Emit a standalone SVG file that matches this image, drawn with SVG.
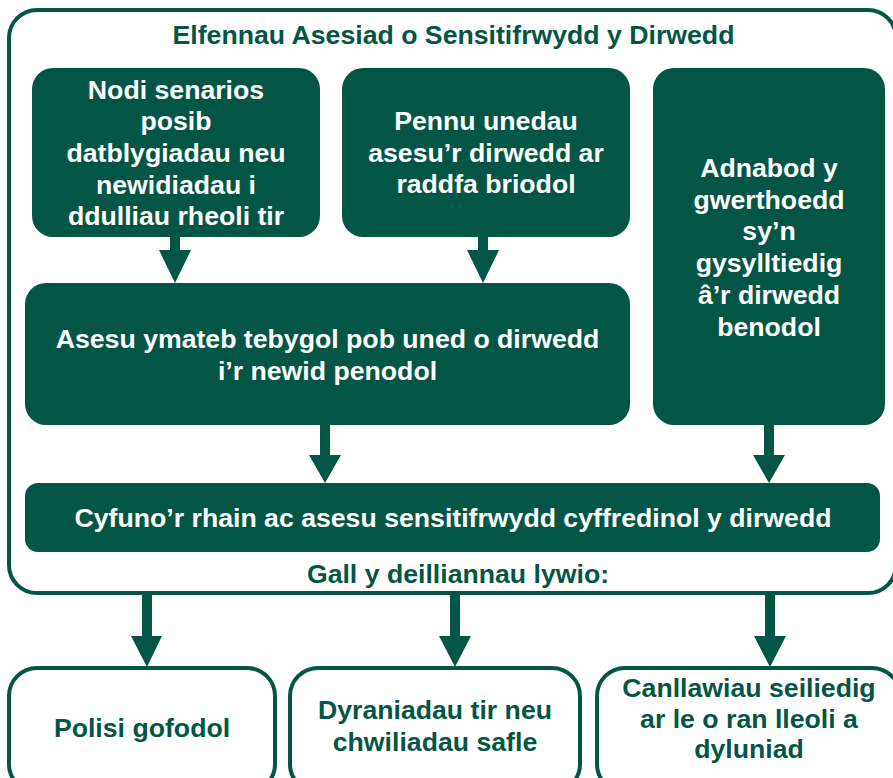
<svg xmlns="http://www.w3.org/2000/svg" width="893" height="778" viewBox="0 0 893 778">
<style>
.fill{fill:#035646}
.out{fill:#ffffff;stroke:#035646;stroke-width:4}
text{font-family:"Liberation Sans",Arial,Helvetica,sans-serif;font-weight:bold;font-size:26.67px;text-anchor:middle}
.w{fill:#ffffff}
.g{fill:#035646}
.conn{fill:#035646}
</style>
<rect width="893" height="778" fill="#ffffff"/>
<g id="frame">
<rect class="out" x="9" y="10" width="887" height="583" rx="28"/>
<text class="g" x="453.5" y="44">Elfennau Asesiad o Sensitifrwydd y Dirwedd</text>
<text class="g" x="458" y="583">Gall y deilliannau lywio:</text>
</g>
<g id="node-scenarios">
<rect class="fill" x="32" y="68" width="288" height="169" rx="21"/>
<text class="w" x="176"><tspan x="176" y="98.5">Nodi senarios</tspan><tspan x="176" y="130.2">posib</tspan><tspan x="176" y="161.9">datblygiadau neu</tspan><tspan x="176" y="193.6">newidiadau i</tspan><tspan x="176" y="225.3">ddulliau rheoli tir</tspan></text>
</g>
<g id="node-units">
<rect class="fill" x="342" y="68" width="288" height="169" rx="21"/>
<text class="w"><tspan x="486" y="130">Pennu unedau</tspan><tspan x="486" y="161.7">asesu’r dirwedd ar</tspan><tspan x="486" y="193.4">raddfa briodol</tspan></text>
</g>
<g id="node-values">
<rect class="fill" x="653" y="68" width="232" height="357" rx="21"/>
<text class="w"><tspan x="769" y="177">Adnabod y</tspan><tspan x="769" y="208.7">gwerthoedd</tspan><tspan x="769" y="240.4">sy’n</tspan><tspan x="769" y="272.1">gysylltiedig</tspan><tspan x="769" y="303.8">â’r dirwedd</tspan><tspan x="769" y="335.5">benodol</tspan></text>
</g>
<g id="node-assess">
<rect class="fill" x="25" y="283" width="605" height="142" rx="21"/>
<text class="w"><tspan x="327.5" y="348">Asesu ymateb tebygol pob uned o dirwedd</tspan><tspan x="327.5" y="380">i’r newid penodol</tspan></text>
</g>
<g id="node-combine">
<rect class="fill" x="25" y="483" width="855" height="69" rx="13"/>
<text class="w" x="453" y="527">Cyfuno’r rhain ac asesu sensitifrwydd cyffredinol y dirwedd</text>
</g>
<g id="node-policy">
<rect class="out" x="9" y="668" width="266" height="124" rx="28"/>
<text class="g" x="142" y="737">Polisi gofodol</text>
</g>
<g id="node-allocations">
<rect class="out" x="290" y="668" width="290" height="124" rx="28"/>
<text class="g"><tspan x="435" y="719">Dyraniadau tir neu</tspan><tspan x="435" y="751">chwiliadau safle</tspan></text>
</g>
<g id="node-guidance">
<rect class="out" x="597" y="668" width="303" height="124" rx="28"/>
<text class="g"><tspan x="749" y="697">Canllawiau seiliedig</tspan><tspan x="749" y="727.5">ar le o ran lleoli a</tspan><tspan x="749" y="758">dyluniad</tspan></text>
</g>
<g id="connectors">
<path class="conn" d="M170 236 H180 V250 H191 L175 283 L159 250 H170 Z"/>
<path class="conn" d="M478 236 H488 V250 H499 L483 283 L467 250 H478 Z"/>
<path class="conn" d="M320 424 H330 V455 H341 L325 483 L309 455 H320 Z"/>
<path class="conn" d="M764 424 H774 V455 H785 L769 483 L753 455 H764 Z"/>
<path class="conn" d="M142 594 H152 V636 H162 L147 667 L131 636 H142 Z"/>
<path class="conn" d="M450 594 H460 V636 H471 L455 667 L439 636 H450 Z"/>
<path class="conn" d="M765 594 H775 V636 H786 L770 667 L754 636 H765 Z"/>
</g>
</svg>
